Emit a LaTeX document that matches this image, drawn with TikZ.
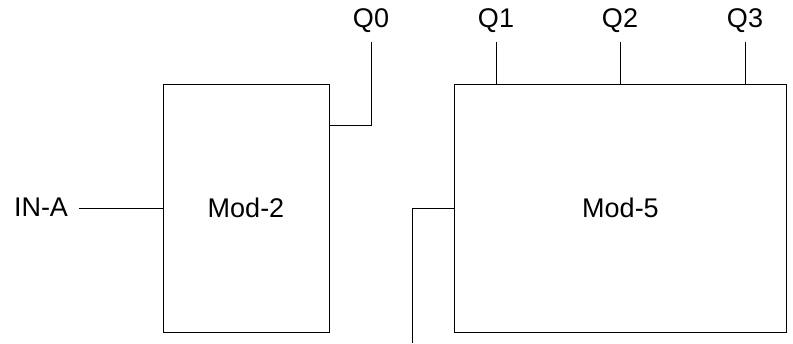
\documentclass[tikz,border=0pt]{standalone}
\usepackage{fontspec}
\setmainfont{Liberation Sans}
\begin{document}
\begin{tikzpicture}[x=1pt,y=-1pt,
  every node/.style={font=\fontsize{27}{31}\selectfont},
  modbox/.style={draw,line width=1pt,minimum width=#1,minimum height=248pt,inner sep=0pt},
  wire/.style={line width=1pt},
  lbl/.style={inner sep=0pt}]
\useasboundingbox (0,0) rectangle (793,343);
\node[modbox=166pt] (m2) at (246,208) {Mod-2};
\node[modbox=332pt] (m5) at (620.5,208) {Mod-5};
\node[lbl] (ina) at (41,207) {IN-A};
\node[lbl] (q0) at (371,21) {Q0};
\node[lbl] (q1) at (496,21) {Q1};
\node[lbl] (q2) at (620,21) {Q2};
\node[lbl] (q3) at (745,21) {Q3};
\coordinate (inaend) at (79,208);
\coordinate (q0end) at (371,42);
\coordinate (q1end) at (496,42);
\coordinate (q2end) at (620,42);
\coordinate (q3end) at (745,42);
\coordinate (m5in) at (412,343);
\draw[wire] (inaend) -- (m2.west);
\draw[wire] (m2.east |- 0,125) -| (q0end);
\draw[wire] (m5.north -| q1end) -- (q1end);
\draw[wire] (m5.north -| q2end) -- (q2end);
\draw[wire] (m5.north -| q3end) -- (q3end);
\draw[wire] (m5.west) -| (m5in);
\end{tikzpicture}
\end{document}
